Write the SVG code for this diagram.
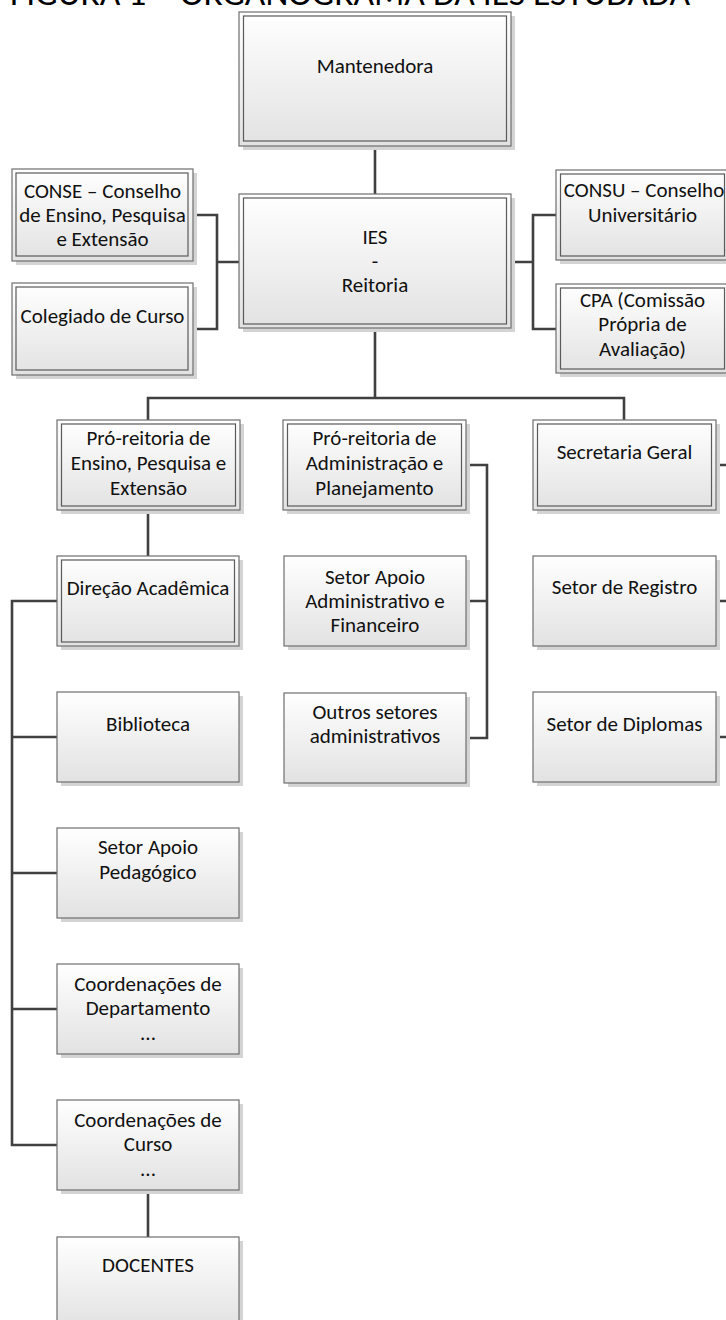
<svg xmlns="http://www.w3.org/2000/svg" width="726" height="1320" viewBox="0 0 726 1320">
<defs>
<linearGradient id="g" x1="0" y1="0" x2="0" y2="1">
<stop offset="0" stop-color="#ffffff"/>
<stop offset="1" stop-color="#e2e2e2"/>
</linearGradient>
</defs>
<style>
.sh{fill:#d4d4d4}
.box{fill:url(#g);stroke:#6e6e6e;stroke-width:1.2}
.in{fill:none;stroke:#5a5a5a;stroke-width:1.2}
.t{font-family:Carlito,Lato,"Liberation Sans",sans-serif;font-size:21px;fill:#111;text-anchor:middle}
.c{fill:none;stroke:#404040;stroke-width:2.6}
.title{font-family:Carlito,Lato,"Liberation Sans",sans-serif;font-size:35.5px;fill:#000}
</style>
<rect width="726" height="1320" fill="#fff"/>
<text class="title" x="10" y="5">FIGURA 1 – ORGANOGRAMA DA IES ESTUDADA</text>
<g id="connectors">
<path class="c" d="M375,146 V194"/>
<path class="c" d="M239,262 H217 M193,215 H217 V329 H193"/>
<path class="c" d="M511,262 H533 M556,215 H533 V329 H556"/>
<path class="c" d="M375,328 V398 M148,420 V398 H624 V420"/>
<path class="c" d="M148,510 V556"/>
<path class="c" d="M466,465 H487 V738 H466 M466,601 H487"/>
<path class="c" d="M716,465 H745 M716,601 H745 M716,737 H745"/>
<path class="c" d="M57,601 H12 V1145 H57 M12,737 H57 M12,873 H57 M12,1009 H57"/>
<path class="c" d="M148,1190 V1237"/>
</g>
<g id="mantenedora">
<rect class="sh" x="243" y="16" width="272" height="134"/>
<rect class="box" x="239" y="12" width="272" height="134"/>
<rect class="in" x="243.5" y="16" width="263" height="125"/>
<text class="t" x="375" y="73">Mantenedora</text>
</g>
<g id="ies">
<rect class="sh" x="243" y="198" width="272" height="134"/>
<rect class="box" x="239" y="194" width="272" height="134"/>
<rect class="in" x="243.5" y="198" width="263" height="126"/>
<text class="t" x="375" y="244">IES</text>
<text class="t" x="375" y="268">-</text>
<text class="t" x="375" y="292">Reitoria</text>
</g>
<g id="conse">
<rect class="sh" x="16" y="173" width="181" height="92"/>
<rect class="box" x="12" y="169" width="181" height="92"/>
<rect class="in" x="16" y="173" width="172" height="83"/>
<text class="t" x="102.5" y="198">CONSE – Conselho</text>
<text class="t" x="102.5" y="222">de Ensino, Pesquisa</text>
<text class="t" x="102.5" y="246">e Extensão</text>
</g>
<g id="colegiado">
<rect class="sh" x="16" y="287" width="181" height="92"/>
<rect class="box" x="12" y="283" width="181" height="92"/>
<rect class="in" x="16" y="287" width="172" height="83"/>
<text class="t" x="102.5" y="323">Colegiado de Curso</text>
</g>
<g id="consu">
<rect class="sh" x="560" y="174" width="173" height="90"/>
<rect class="box" x="556" y="170" width="173" height="90"/>
<rect class="in" x="560.5" y="174" width="164" height="82"/>
<text class="t" x="644" y="197">CONSU – Conselho</text>
<text class="t" x="642.5" y="222">Universitário</text>
</g>
<g id="cpa">
<rect class="sh" x="560" y="288" width="173" height="89"/>
<rect class="box" x="556" y="284" width="173" height="89"/>
<rect class="in" x="560.5" y="288" width="164" height="81"/>
<text class="t" x="642.5" y="307">CPA (Comissão</text>
<text class="t" x="642.5" y="331">Própria de</text>
<text class="t" x="642.5" y="356">Avaliação)</text>
</g>
<g id="pro-ensino">
<rect class="sh" x="61" y="424" width="183" height="90"/>
<rect class="box" x="57" y="420" width="183" height="90"/>
<rect class="in" x="61.5" y="424" width="174" height="82"/>
<text class="t" x="148.5" y="445">Pró-reitoria de</text>
<text class="t" x="148.5" y="470">Ensino, Pesquisa e</text>
<text class="t" x="148.5" y="495">Extensão</text>
</g>
<g id="pro-admin">
<rect class="sh" x="287" y="424" width="183" height="90"/>
<rect class="box" x="283" y="420" width="183" height="90"/>
<rect class="in" x="287.5" y="424" width="174" height="82"/>
<text class="t" x="374.5" y="445">Pró-reitoria de</text>
<text class="t" x="374.5" y="470">Administração e</text>
<text class="t" x="374.5" y="495">Planejamento</text>
</g>
<g id="secretaria">
<rect class="sh" x="537" y="424" width="183" height="90"/>
<rect class="box" x="533" y="420" width="183" height="90"/>
<rect class="in" x="537.5" y="424" width="174" height="82"/>
<text class="t" x="624.5" y="459">Secretaria Geral</text>
</g>
<g id="direcao">
<rect class="sh" x="61" y="560" width="182" height="90"/>
<rect class="box" x="57" y="556" width="182" height="90"/>
<rect class="in" x="61.5" y="560" width="173" height="82"/>
<text class="t" x="148" y="595">Direção Acadêmica</text>
</g>
<g id="apoio-adm">
<rect class="sh" x="288" y="560" width="182" height="90"/>
<rect class="box" x="284" y="556" width="182" height="90"/>
<text class="t" x="375" y="584">Setor Apoio</text>
<text class="t" x="375" y="608">Administrativo e</text>
<text class="t" x="375" y="632">Financeiro</text>
</g>
<g id="registro">
<rect class="sh" x="537" y="560" width="183" height="90"/>
<rect class="box" x="533" y="556" width="183" height="90"/>
<text class="t" x="624.5" y="594">Setor de Registro</text>
</g>
<g id="biblioteca">
<rect class="sh" x="61" y="696" width="182" height="90"/>
<rect class="box" x="57" y="692" width="182" height="90"/>
<text class="t" x="148" y="731">Biblioteca</text>
</g>
<g id="outros">
<rect class="sh" x="288" y="697" width="182" height="90"/>
<rect class="box" x="284" y="693" width="182" height="90"/>
<text class="t" x="375" y="719">Outros setores</text>
<text class="t" x="375" y="743">administrativos</text>
</g>
<g id="diplomas">
<rect class="sh" x="537" y="696" width="183" height="90"/>
<rect class="box" x="533" y="692" width="183" height="90"/>
<text class="t" x="624.5" y="731">Setor de Diplomas</text>
</g>
<g id="apoio-pedagogico">
<rect class="sh" x="61" y="832" width="182" height="90"/>
<rect class="box" x="57" y="828" width="182" height="90"/>
<text class="t" x="148" y="854">Setor Apoio</text>
<text class="t" x="148" y="879">Pedagógico</text>
</g>
<g id="coord-departamento">
<rect class="sh" x="61" y="968" width="182" height="90"/>
<rect class="box" x="57" y="964" width="182" height="90"/>
<text class="t" x="148" y="991">Coordenações de</text>
<text class="t" x="148" y="1015">Departamento</text>
<text class="t" x="148" y="1040">...</text>
</g>
<g id="coord-curso">
<rect class="sh" x="61" y="1104" width="182" height="90"/>
<rect class="box" x="57" y="1100" width="182" height="90"/>
<text class="t" x="148" y="1127">Coordenações de</text>
<text class="t" x="148" y="1151">Curso</text>
<text class="t" x="148" y="1176">...</text>
</g>
<g id="docentes">
<rect class="sh" x="61" y="1241" width="182" height="90"/>
<rect class="box" x="57" y="1237" width="182" height="90"/>
<text class="t" x="148" y="1272">DOCENTES</text>
</g>
</svg>
